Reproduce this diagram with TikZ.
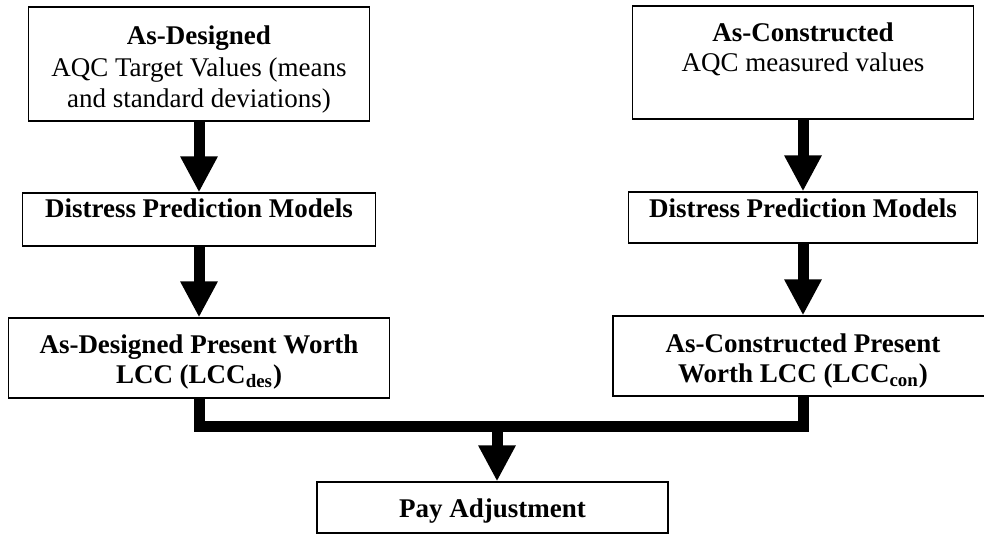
\documentclass[tikz,border=0pt]{standalone}
\usepackage{fontspec}
\setmainfont{Liberation Serif}
\usepackage{tikz}
\usetikzlibrary{
  arrows.meta,
  positioning
}

\tikzset{
  flowbox/.style={draw=black,line width=0.6pt,inner sep=0pt,align=center,
    font=\fontsize{13.5}{15}\selectfont\bfseries},
  flowline/.style={line width=5.5pt,draw=black},
  flowarrow/.style={flowline,-{Triangle[width=17.5pt,length=18pt]}}
}

\begin{document}
\begin{tikzpicture}[x=0.5pt,y=-0.5pt]
  \useasboundingbox (0,0) rectangle (984,535);

  % left column
  \node[flowbox,minimum width=170.5pt,text height=50.5pt,text depth=6.5pt,
        font=\fontsize{13.5}{16}\selectfont\bfseries] (desA) at (199,64)
    {As-Designed\\{\mdseries AQC Target Values (means}\\{\mdseries and standard deviations)}};
  \node[flowbox,minimum width=176.5pt,text height=12pt,text depth=14.5pt] (disA) at (199,219.5)
    {Distress Prediction Models};
  \node[flowbox,minimum width=190.5pt,text height=32.5pt,text depth=7.5pt] (lccdes) at (199,358)
    {As-Designed Present Worth\\LCC (LCC\textsubscript{des})};

  % right column
  \node[flowbox,minimum width=170.5pt,text height=33pt,text depth=23.5pt] (conA) at (803,62.5)
    {As-Constructed\\{\mdseries AQC measured values}};
  \node[flowbox,minimum width=174.5pt,text height=12.5pt,text depth=13pt] (disC) at (803,217.5)
    {Distress Prediction Models};
  \node[flowbox,minimum width=190pt,text height=33pt,text depth=7pt] (lcccon) at (803,356)
    {As-Constructed Present\\Worth LCC (LCC\textsubscript{con})};

  % result
  \node[flowbox,minimum width=175.5pt,text height=17.5pt,text depth=8pt] (pay) at (492.5,507.5)
    {Pay Adjustment};

  \draw[flowarrow] (desA) -- (disA);
  \draw[flowarrow] (disA) -- (lccdes);
  \draw[flowarrow] (conA) -- (disC);
  \draw[flowarrow] (disC) -- (lcccon);

  \coordinate (join) at (497,426.5);
  \draw[flowline] (lccdes.south) |- (join) -| (lcccon.south);
  \draw[flowarrow] (join) -- (join |- pay.north);
\end{tikzpicture}
\end{document}
